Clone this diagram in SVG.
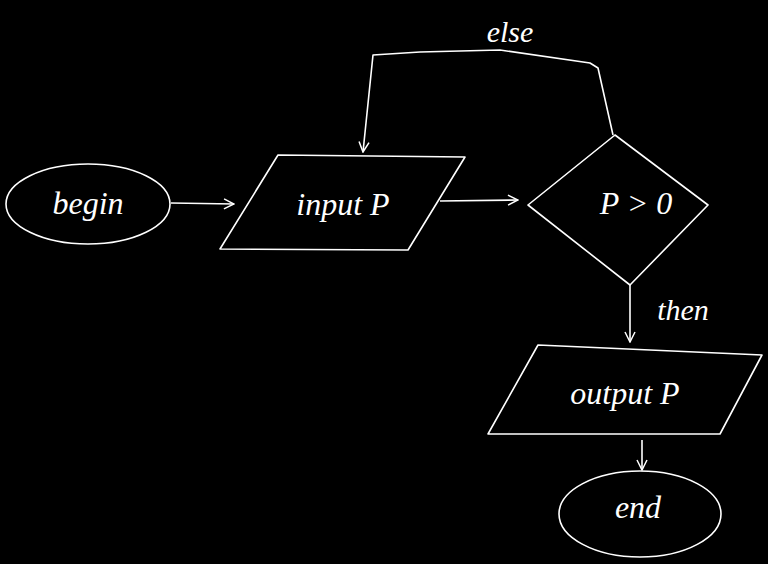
<svg xmlns="http://www.w3.org/2000/svg" width="768" height="564" viewBox="0 0 768 564">
<defs>
<marker id="arr" viewBox="0 0 12 12" refX="11" refY="6" markerWidth="12" markerHeight="12" markerUnits="userSpaceOnUse" orient="auto">
<path d="M1,1 L11,6 L1,11" fill="none" stroke="#fff" stroke-width="1.5"/>
</marker>
<style>
.s{fill:none;stroke:#fff;stroke-width:1.6;stroke-linejoin:round}
.t{fill:#fff;font-family:"Liberation Serif",serif;font-style:italic;font-size:32px;text-anchor:middle}
.l{fill:#fff;font-family:"Liberation Serif",serif;font-style:italic;font-size:30px;text-anchor:middle}
</style>
</defs>
<rect width="768" height="564" fill="#000"/>
<g id="begin"><ellipse class="s" cx="88" cy="204" rx="82" ry="40"/><text class="t" x="88" y="214">begin</text></g>
<g id="input"><polygon class="s" points="278,155 465,157 408,250 220,249"/><text class="t" x="343" y="215">input P</text></g>
<g id="decision"><polygon class="s" points="615,135 708,205 630,285 528,205"/><text class="t" x="636" y="214">P &gt; 0</text></g>
<g id="output"><polygon class="s" points="538,345 762,355 720,434 488,434"/><text class="t" x="625" y="404">output P</text></g>
<g id="end"><ellipse class="s" cx="640" cy="514" rx="81" ry="43"/><text class="t" x="638" y="518">end</text></g>
<g id="connectors">
<path class="s" d="M171,203 L234,204" marker-end="url(#arr)"/>
<path class="s" d="M440,201 L518,200" marker-end="url(#arr)"/>
<path class="s" d="M613,135 L598,68 L590,63 L500,50 L420,52 L373,55 L363,152" marker-end="url(#arr)"/>
<path class="s" d="M630,285 L630,342" marker-end="url(#arr)"/>
<path class="s" d="M642,440 L642,470" marker-end="url(#arr)"/>
<text class="l" x="510" y="42">else</text>
<text class="l" x="683" y="320">then</text>
</g>
</svg>
